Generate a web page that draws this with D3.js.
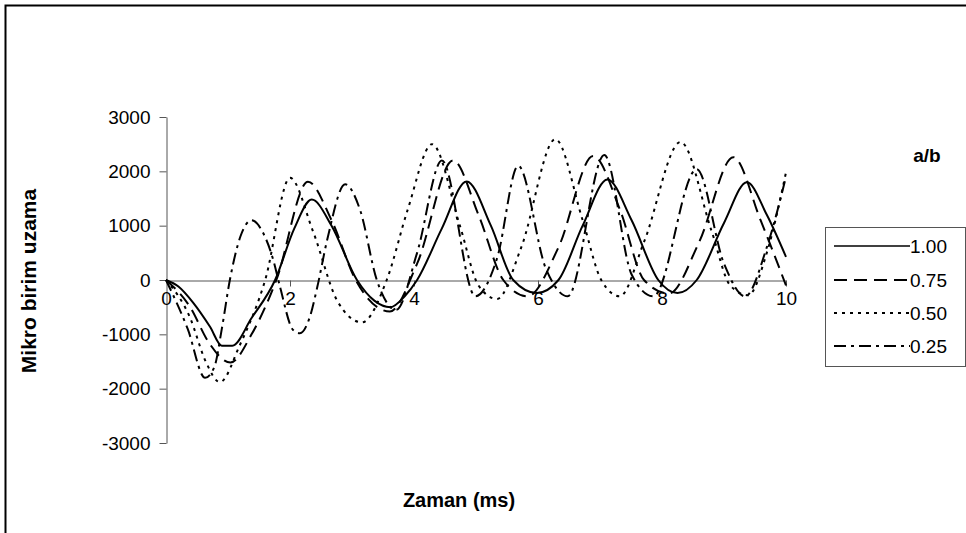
<!DOCTYPE html>
<html>
<head>
<meta charset="utf-8">
<script src="https://cdn.jsdelivr.net/npm/d3@7"></script>
<style>
  html, body { margin: 0; padding: 0; background: #fff; }
  svg { display: block; font-family: "Liberation Sans", Arial, sans-serif; }
</style>
</head>
<body>
<svg id="chart" width="966" height="533"></svg>
<script>
// Strain response (micro-strain) over time (ms) for several plate aspect ratios a/b
const seriesNames = ["1.00", "0.75", "0.50", "0.25"];

const t100 = [0, 0.2, 0.44, 0.71, 0.9, 1.07, 1.38, 1.76, 2.07, 2.35, 2.67, 3.08, 3.36, 3.62, 3.85, 4.05, 4.45, 4.85, 5.24, 5.6, 5.98, 6.33, 6.72, 7.12, 7.51, 7.94, 8.25, 8.56, 9.0, 9.37, 9.69, 10.0];
const v100 = [0, -120, -420, -860, -1210, -1210, -700, 0, 950, 1480, 1000, 0, -380, -500, -300, 0, 950, 1815, 1000, 0, -240, 0, 1000, 1850, 1100, 0, -240, 0, 1050, 1800, 1200, 425];

const t075 = [0, 0.39, 0.69, 1.04, 1.38, 1.78, 2.29, 2.67, 3.06, 3.61, 4.05, 4.63, 5.04, 5.44, 5.83, 6.33, 6.89, 7.32, 7.71, 8.11, 8.6, 9.15, 9.59, 10.0];
const v075 = [0, -500, -1150, -1520, -1000, 0, 1810, 1100, 0, -580, 300, 2200, 1200, 0, -300, 600, 2280, 1300, 0, -250, 700, 2260, 1100, -100];

const t050 = [0, 0.39, 0.64, 0.87, 1.19, 1.6, 2.0, 2.37, 2.77, 3.16, 3.56, 3.9, 4.29, 4.74, 5.04, 5.34, 5.73, 6.28, 6.72, 7.02, 7.32, 7.71, 8.3, 8.8, 9.1, 9.39, 9.69, 10.0];
const v050 = [0, -700, -1500, -1880, -1200, 0, 1880, 900, -400, -780, 0, 1300, 2500, 1000, -100, -350, 600, 2590, 1100, 0, -300, 700, 2540, 900, -100, -280, 500, 1980];

const t025 = [0, 0.35, 0.63, 0.78, 0.9, 1.03, 1.2, 1.38, 1.56, 1.73, 1.84, 2.05, 2.16, 2.32, 2.44, 2.6, 2.89, 3.13, 3.4, 3.71, 4.05, 4.45, 4.99, 5.34, 5.68, 6.13, 6.48, 7.07, 7.51, 7.86, 8.56, 9.0, 9.34, 9.69, 10.0];
const v025 = [0, -900, -1800, -1600, -900, 0, 800, 1100, 880, 370, -130, -920, -980, -680, -130, 740, 1760, 1290, 0, -550, 500, 2200, -300, 400, 2100, 200, -300, 2300, 100, -300, 2040, 300, -300, 600, 1900];

const tickX = [0, 2, 4, 6, 8, 10];
const tickY = [-3000, -2000, -1000, 0, 1000, 2000, 3000];

const dashes = ["none", "13,7", "3,5", "12,5,3,5"];
const seriesT = [t100, t075, t050, t025];
const seriesV = [v100, v075, v050, v025];

const svg = d3.select("#chart");
const font = "Liberation Sans, Arial, sans-serif";

// outer chart frame (left and top edges visible)
svg.append("path")
  .attr("d", "M5.5,533 V5.5 H966")
  .attr("fill", "none").attr("stroke", "#000").attr("stroke-width", 2);

const x = d3.scaleLinear().domain([0, 10]).range([166, 786]);
const y = d3.scaleLinear().domain([-3000, 3000]).range([443, 117]);

// y axis
const yAxis = svg.append("g").attr("transform", "translate(166.5,0)")
  .call(d3.axisLeft(y).tickValues(tickY).tickFormat(d3.format("d"))
    .tickSize(7).tickSizeOuter(0).tickPadding(9));
yAxis.select(".domain").attr("stroke", "#555");
yAxis.selectAll(".tick line").attr("stroke", "#555");
yAxis.selectAll("text").attr("font-size", 19).attr("fill", "#000").attr("font-family", font)
  .text(d => String(d));

// x axis through zero, labels below the line
const xAxis = svg.append("g").attr("transform", `translate(0,${Math.round(y(0)) + 0.5})`)
  .call(d3.axisBottom(x).tickValues(tickX).tickFormat(d3.format("d"))
    .tickSize(6).tickSizeOuter(0).tickPadding(5));
xAxis.select(".domain").attr("stroke", "#555");
xAxis.selectAll(".tick line").attr("stroke", "#555");
xAxis.selectAll(".tick").filter(d => d === 0).select("line").remove();
xAxis.selectAll("text").attr("font-size", 19).attr("fill", "#000").attr("font-family", font);

// series lines
const line = d3.line().curve(d3.curveMonotoneX);
seriesT.forEach((ts, i) => {
  const pts = ts.map((t, j) => [x(t), y(seriesV[i][j])]);
  svg.append("path")
    .attr("d", line(pts))
    .attr("fill", "none")
    .attr("stroke", "#000")
    .attr("stroke-width", 2)
    .attr("stroke-dasharray", dashes[i]);
});

// axis titles
svg.append("text").attr("x", 459).attr("y", 507).attr("text-anchor", "middle")
  .attr("font-size", 20).attr("font-weight", "bold").text("Zaman (ms)");
svg.append("text").attr("transform", "translate(36,281) rotate(-90)")
  .attr("text-anchor", "middle").attr("font-size", 21).attr("font-weight", "bold")
  .text("Mikro birim uzama");

// legend
svg.append("text").attr("x", 927).attr("y", 162).attr("text-anchor", "middle")
  .attr("font-size", 19).attr("font-weight", "bold").text("a/b");
svg.append("rect").attr("x", 825.5).attr("y", 227.5).attr("width", 140).attr("height", 139)
  .attr("fill", "#fff").attr("stroke", "#555");
const legY = [246, 280, 313, 346];
seriesNames.forEach((name, i) => {
  svg.append("line").attr("x1", 834).attr("x2", 910)
    .attr("y1", legY[i]).attr("y2", legY[i])
    .attr("stroke", "#000").attr("stroke-width", i === 0 ? 1.5 : 2)
    .attr("stroke-dasharray", dashes[i]);
  svg.append("text").attr("x", 910).attr("y", legY[i] + 7)
    .attr("font-size", 19).text(name);
});
</script>
</body>
</html>
